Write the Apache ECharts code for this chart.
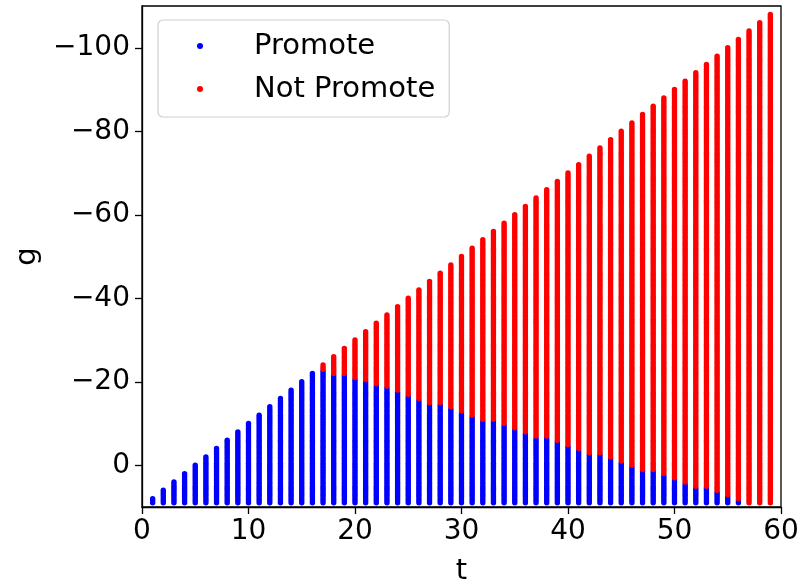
<!DOCTYPE html>
<html>
<head>
<meta charset="utf-8">
<title>Promote / Not Promote</title>
<script src="https://cdn.jsdelivr.net/npm/echarts@6/dist/echarts.min.js"></script>
<style>
  html, body { margin: 0; padding: 0; background: #fff; }
  #chart { width: 803px; height: 585px; }
</style>
</head>
<body>
<div id="chart"></div>
<script>
// Each column t holds a vertical run of sampled g values.
// topG: upper end of the column; promoteTopG: where the "Promote" region starts.
// Everything from promoteTopG down to the lower edge of the axis is "Promote".
const tValues = [
  0, 1, 2, 3, 4, 5, 6, 7, 8, 9,
  10, 11, 12, 13, 14, 15, 16, 17, 18, 19,
  20, 21, 22, 23, 24, 25, 26, 27, 28, 29,
  30, 31, 32, 33, 34, 35, 36, 37, 38, 39,
  40, 41, 42, 43, 44, 45, 46, 47, 48, 49,
  50, 51, 52, 53, 54, 55, 56, 57, 58, 59
];
const topG = [
  10, 8, 6, 4, 2, 0, -2, -4, -6, -8,
  -10, -12, -14, -16, -18, -20, -22, -24, -26, -28,
  -30, -32, -34, -36, -38, -40, -42, -44, -46, -48,
  -50, -52, -54, -56, -58, -60, -62, -64, -66, -68,
  -70, -72, -74, -76, -78, -80, -82, -84, -86, -88,
  -90, -92, -94, -96, -98, -100, -102, -104, -106, -108
];
const promoteTopG = [
  10, 8, 6, 4, 2, 0, -2, -4, -6, -8,
  -10, -12, -14, -16, -18, -20, -22, -22.6, -21.6, -21.6,
  -20.7, -20.0, -19.1, -18.9, -17.9, -16.8, -15.7, -14.7, -14.7, -13.7,
  -12.7, -11.7, -10.7, -10.7, -9.6, -8.5, -7.7, -6.9, -6.9, -5.9,
  -4.8, -3.9, -2.9, -2.9, -1.7, -0.7, 0.3, 1.3, 1.3, 2.3,
  3.4, 4.3, 5.1, 5.1, 6.3, 7.1, 8.2, 9.3, 9.9, 9.9
];
const yTicks = [-100, -80, -60, -40, -20, 0];
const xTicks = [0, 10, 20, 30, 40, 50, 60];

// sampling step of g within a column, and the lowest sample drawn
const G_STEP = 0.5;
const G_LOW = 9.4;

const promotePts = [];
const notPromotePts = [];
tValues.forEach((t, i) => {
  for (let g = topG[i]; g <= G_LOW + 1e-9; g += G_STEP) {
    if (g >= promoteTopG[i] - 1e-9) promotePts.push([t, g]);
    else notPromotePts.push([t, g]);
  }
});

const FONT = '"DejaVu Sans", sans-serif';
const fmtMinus = v => String(v).replace('-', '\u2212');

const chart = echarts.init(document.getElementById('chart'), null, { renderer: 'canvas' });
chart.setOption({
  animation: false,
  backgroundColor: '#ffffff',
  grid: {
    left: 142, right: 22, top: 6, bottom: 78,
    outerBoundsMode: 'none',
    show: true, borderColor: '#000', borderWidth: 1.3, backgroundColor: 'transparent'
  },
  legend: {
    left: 158, top: 20,
    orient: 'vertical',
    icon: 'circle',
    itemWidth: 6, itemHeight: 6,
    itemGap: 13,
    padding: [11, 14, 13, 39],
    backgroundColor: 'rgba(255,255,255,0.85)',
    borderColor: '#d0d0d0', borderWidth: 1.2, borderRadius: 5,
    textStyle: {
      fontFamily: FONT, fontSize: 29, color: '#000',
      padding: [0, 0, 0, 46], lineHeight: 30
    },
    data: ['Promote', 'Not Promote']
  },
  xAxis: {
    type: 'value',
    min: 0, max: 60,
    name: 't', nameLocation: 'middle', nameGap: 50,
    nameTextStyle: { fontFamily: FONT, fontSize: 29, color: '#000' },
    axisLine: { onZero: false, lineStyle: { color: '#000', width: 1.3 } },
    axisTick: { show: true, length: 7, lineStyle: { color: '#000', width: 1.3 }, customValues: xTicks },
    axisLabel: { fontFamily: FONT, fontSize: 28, color: '#000', margin: 11, customValues: xTicks },
    splitLine: { show: false }
  },
  yAxis: {
    type: 'value',
    inverse: true,
    min: -110, max: 10,
    name: 'g', nameLocation: 'middle', nameGap: 100,
    nameTextStyle: { fontFamily: FONT, fontSize: 29, color: '#000' },
    axisLine: { onZero: false, lineStyle: { color: '#000', width: 1.3 } },
    axisTick: { show: true, length: 7, lineStyle: { color: '#000', width: 1.3 }, customValues: yTicks },
    axisLabel: { fontFamily: FONT, fontSize: 28, color: '#000', margin: 12, customValues: yTicks, formatter: fmtMinus },
    splitLine: { show: false }
  },
  series: [
    {
      name: 'Promote',
      type: 'scatter',
      symbol: 'circle',
      symbolSize: 5.4,
      itemStyle: { color: '#0000ff', opacity: 1 },
      data: promotePts
    },
    {
      name: 'Not Promote',
      type: 'scatter',
      symbol: 'circle',
      symbolSize: 5.4,
      itemStyle: { color: '#ff0000', opacity: 1 },
      data: notPromotePts
    }
  ]
});
</script>
</body>
</html>
